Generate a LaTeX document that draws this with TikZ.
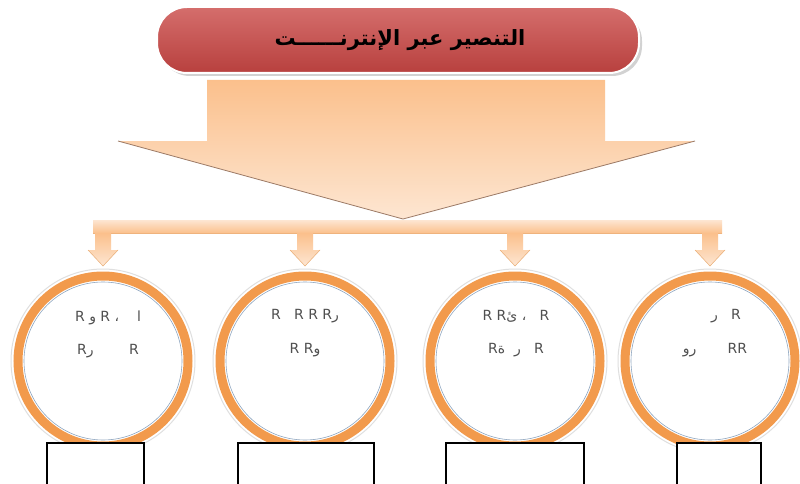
\documentclass[tikz,border=0pt]{standalone}
\usepackage{fontspec}
\TeXXeTstate=1
\newfontfamily\arabicfont[Script=Arabic]{DejaVu Sans}
\definecolor{titlered}{HTML}{CD5452}
\definecolor{titlereddark}{HTML}{B8403E}
\definecolor{peachlight}{HTML}{FDE6D2}
\definecolor{peachdeep}{HTML}{FBC08C}
\definecolor{arrowedge}{HTML}{9C7A66}
\definecolor{ringorange}{HTML}{F29A4C}
\definecolor{ringblue}{HTML}{8FA6C0}
\definecolor{glyphgray}{HTML}{505050}
\begin{document}
\begin{tikzpicture}[x=1pt,y=-1pt,
  titlebox/.style={rounded corners=30pt, top color=titlered!85!white, bottom color=titlereddark, draw=white, line width=2pt},
  peach/.style={top color=peachdeep, bottom color=peachlight},
  peachedge/.style={draw=arrowedge, line width=0.8pt, line join=round},
  ring/.style={draw=ringorange, line width=9pt},
  labelbox/.style={draw=black, fill=white, line width=1.6pt, inner sep=0pt},
  glyphs/.style={font=\fontsize{14}{16}\selectfont\arabicfont, text=glyphgray, align=center}
]
\useasboundingbox (0,0) rectangle (800,484);
\fill[white] (0,0) rectangle (800,484);
% title
\fill[gray!35, rounded corners=30pt] (160,11) rectangle (642,76);
\draw[titlebox] (157,7) rectangle (639,73);
\node (title) at (400,40) {\fontsize{21}{24}\selectfont\arabicfont\bfseries\beginR التنصير عبر الإنترنــــــت\endR};
% big arrow
\shade[peach] (207,80) -- (605,80) -- (605,141) -- (695,141) -- (403,219) -- (118,141) -- (207,141) -- cycle;
\draw[peachedge] (118,141) -- (403,219) -- (695,141);
% bar
\shade[top color=peachlight, bottom color=peachdeep] (93,220) rectangle (722,233);
\draw[peachdeep!80!brown, line width=0.8pt] (93,233) -- (722,233);
% circles and small arrows
\foreach \cx/\bl/\br [count=\i] in {103/46/143, 305/237/373, 515/445/583, 710/676/760}{
  \shade[peach] (\cx-8,233) -- (\cx+8,233) -- (\cx+8,250) -- (\cx+15,250) -- (\cx,266) -- (\cx-15,250) -- (\cx-8,250) -- cycle;
  \draw[peachdeep!70!brown, line width=0.5pt] (\cx+15,250) -- (\cx,266) -- (\cx-15,250);
  \draw[gray!25, line width=1pt] (\cx,361) circle[radius=92];
  \draw[ring] (\cx,361) circle[radius=85];
  \draw[ringblue, line width=0.6pt] (\cx,361) circle[radius=79];
  \node[labelbox, minimum width={\br-\bl}, minimum height=44pt, anchor=north west] (box\i) at (\bl,442) {};
}
% garbled glyph text in circles
\node[glyphs] (c1a) at (108,318) {\beginR ا\ \ \ \ ، R\ و R\endR};
\node[glyphs] (c1b) at (108,351) {\beginR R\ \ \ \ \ \ \ \ رR\endR};
\node[glyphs] (c2a) at (305,316) {\beginR Rر R R\ \ \ R\endR};
\node[glyphs] (c2b) at (305,350) {\beginR Rو R\endR};
\node[glyphs] (c3a) at (516,316) {\beginR R\ \ \ ، Rئ R\endR};
\node[glyphs] (c3b) at (516,350) {\beginR R\ \ \ ر\ \ Rة\endR};
\node[glyphs] (c4a) at (726,316) {\beginR R\ \ \ ر\endR};
\node[glyphs] (c4b) at (715,350) {\beginR RR\ \ \ \ \ \ \ رو\endR};
\end{tikzpicture}
\end{document}
